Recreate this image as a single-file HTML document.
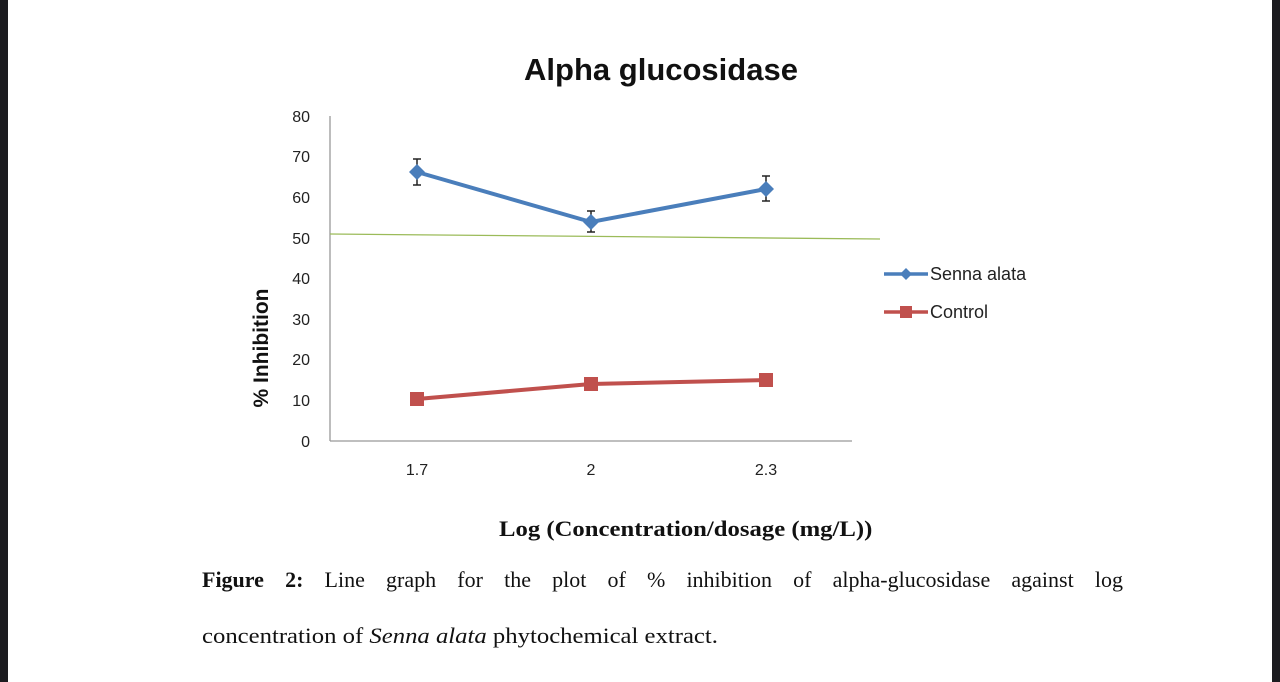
<!DOCTYPE html>
<html><head><meta charset="utf-8"><style>
html,body{margin:0;padding:0;background:#fff;}
body{width:1280px;height:682px;position:relative;overflow:hidden;}
.l{position:absolute;left:0;top:0;width:8px;height:682px;background:#1c1c20;}
.r{position:absolute;left:1272px;top:0;width:8px;height:682px;background:#1c1c20;}
.cap{position:absolute;font-family:"Liberation Serif",serif;font-size:22px;color:#111;transform-origin:0 0;white-space:nowrap;}
</style></head><body>
<div class="l"></div><div class="r"></div>
<svg width="1280" height="682" style="position:absolute;left:0;top:0" font-family="Liberation Sans, sans-serif">
<text x="661" y="80" text-anchor="middle" font-size="31" font-weight="bold" fill="#111">Alpha glucosidase</text>
<g font-size="16" fill="#222" text-anchor="end">
<text x="310" y="122">80</text><text x="310" y="162">70</text><text x="310" y="203">60</text><text x="310" y="244">50</text><text x="310" y="284">40</text><text x="310" y="325">30</text><text x="310" y="365">20</text><text x="310" y="406">10</text><text x="310" y="447">0</text>
</g>
<g font-size="16" fill="#222" text-anchor="middle">
<text x="417" y="475">1.7</text><text x="591" y="475">2</text><text x="766" y="475">2.3</text>
</g>
<text transform="translate(268,348) rotate(-90)" text-anchor="middle" font-size="21" font-weight="bold" fill="#111">% Inhibition</text>
<line x1="330" y1="116" x2="330" y2="441" stroke="#999" stroke-width="1.3"/>
<line x1="330" y1="441" x2="852" y2="441" stroke="#999" stroke-width="1.3"/>
<line x1="330" y1="234" x2="880" y2="239" stroke="#9bbb59" stroke-width="1.3"/>
<g stroke="#222" stroke-width="1.5">
<line x1="417" y1="159" x2="417" y2="185"/><line x1="413" y1="159" x2="421" y2="159"/><line x1="413" y1="185" x2="421" y2="185"/>
<line x1="591" y1="211" x2="591" y2="232"/><line x1="587" y1="211" x2="595" y2="211"/><line x1="587" y1="232" x2="595" y2="232"/>
<line x1="766" y1="176" x2="766" y2="201"/><line x1="762" y1="176" x2="770" y2="176"/><line x1="762" y1="201" x2="770" y2="201"/>
</g>
<polyline points="417,172 591,222 766,189" fill="none" stroke="#4a7ebb" stroke-width="4"/>
<g fill="#4a7ebb">
<polygon points="417,164 425,172 417,180 409,172"/><polygon points="591,214 599,222 591,230 583,222"/><polygon points="766,181 774,189 766,197 758,189"/>
</g>
<polyline points="417,399 591,384 766,380" fill="none" stroke="#c0504d" stroke-width="4"/>
<g fill="#c0504d">
<rect x="410" y="392" width="14" height="14"/><rect x="584" y="377" width="14" height="14"/><rect x="759" y="373" width="14" height="14"/>
</g>
<line x1="884" y1="274" x2="928" y2="274" stroke="#4a7ebb" stroke-width="3.5"/>
<polygon points="906,268 912,274 906,280 900,274" fill="#4a7ebb"/>
<line x1="884" y1="312" x2="928" y2="312" stroke="#c0504d" stroke-width="3.5"/>
<rect x="900" y="306" width="12" height="12" fill="#c0504d"/>
<text x="930" y="280" font-size="18" fill="#222">Senna alata</text>
<text x="930" y="318" font-size="18" fill="#222">Control</text>
</svg>
<div class="cap" style="left:499px;top:516px;font-weight:bold;transform:scaleX(1.123);">Log (Concentration/dosage (mg/L))</div>
<div class="cap" style="left:202px;top:567px;width:921px;text-align:justify;text-align-last:justify;white-space:normal;"><b>Figure 2:</b> Line graph for the plot of % inhibition of alpha-glucosidase against log</div>
<div class="cap" style="left:202px;top:623px;transform:scaleX(1.123);">concentration of <i>Senna alata</i> phytochemical extract.</div>
</body></html>
